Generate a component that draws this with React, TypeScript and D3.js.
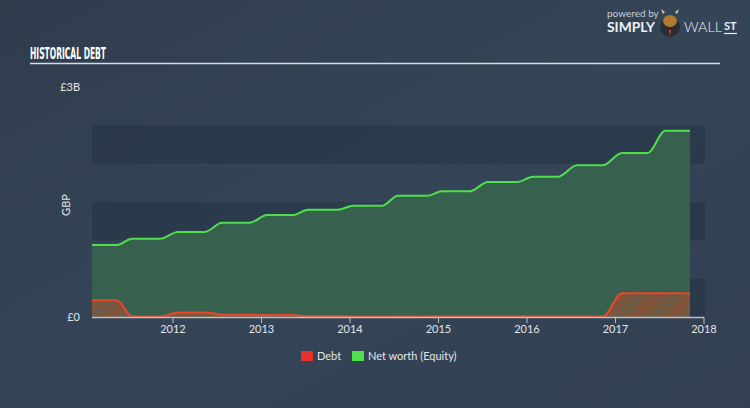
import React from "react";
import * as d3 from "d3";

const W = 750;
const H = 408;

// Dates (decimal years) where the series levels start / end
const dates = [
  2011.085, 2011.367, 2011.537, 2011.853, 2012.056, 2012.362, 2012.554, 2012.87,
  2013.062, 2013.356, 2013.525, 2013.864, 2014.034, 2014.362, 2014.542, 2014.87,
  2015.04, 2015.356, 2015.559, 2015.887, 2016.068, 2016.35, 2016.565, 2016.859,
  2017.073, 2017.367, 2017.559, 2017.842,
];
// Net worth (Equity), £B
const netWorth = [
  0.94, 0.94, 1.02, 1.02, 1.11, 1.11, 1.23, 1.23,
  1.33, 1.33, 1.4, 1.4, 1.45, 1.45, 1.58, 1.58,
  1.64, 1.64, 1.76, 1.76, 1.83, 1.83, 1.98, 1.98,
  2.14, 2.14, 2.43, 2.43,
];
// Debt, £B
const debt = [
  0.22, 0.22, 0.005, 0.005, 0.06, 0.06, 0.03, 0.03,
  0.025, 0.025, 0.01, 0.01, 0.008, 0.008, 0.008, 0.008,
  0.008, 0.008, 0.008, 0.008, 0.008, 0.008, 0.008, 0.008,
  0.31, 0.31, 0.31, 0.31,
];

const xTicks = [2012, 2013, 2014, 2015, 2016, 2017, 2018];
const yTickValues = [0, 3];
const yTickLabels = ["£0", "£3B"];
const bandRanges: [number, number][] = [
  [0, 0.5],
  [1, 1.5],
  [2, 2.5],
];
const legendItems = ["Debt", "Net worth (Equity)"];
const legendColors = ["#e8302c", "#4ee04a"];

const FONT = "Lato, 'Open Sans', sans-serif";

export default function App() {
  const x = d3.scaleLinear().domain([2011, 2018]).range([84.5, 704]);
  const y = d3.scaleLinear().domain([0, 3]).range([317, 87]);

  const pts = dates.map((d, i) => ({ d, n: netWorth[i], b: debt[i] }));

  const netArea = d3
    .area<any>()
    .x((p) => x(p.d))
    .y0(y(0))
    .y1((p) => y(p.n))
    .curve(d3.curveMonotoneX)(pts)!;
  const netLine = d3
    .line<any>()
    .x((p) => x(p.d))
    .y((p) => y(p.n))
    .curve(d3.curveMonotoneX)(pts)!;
  const debtArea = d3
    .area<any>()
    .x((p) => x(p.d))
    .y0(y(0))
    .y1((p) => y(p.b))
    .curve(d3.curveMonotoneX)(pts)!;
  const debtLine = d3
    .line<any>()
    .x((p) => x(p.d))
    .y((p) => y(p.b))
    .curve(d3.curveMonotoneX)(pts)!;

  const bandX0 = x(dates[0]);
  const bandX1 = 705;

  return (
    <div style={{ position: "fixed", left: 0, top: 0, width: W, height: H }}>
      <svg width={W} height={H} style={{ display: "block" }}>
        <defs>
          <linearGradient id="bg" x1="0" y1="0" x2="1" y2="1">
            <stop offset="0" stopColor="#2f3c4c" />
            <stop offset="0.5" stopColor="#354558" />
            <stop offset="1" stopColor="#313f50" />
          </linearGradient>
          <pattern
            id="hatch"
            width="3"
            height="3"
            patternUnits="userSpaceOnUse"
            patternTransform="rotate(45)"
          >
            <rect width="3" height="3" fill="#3e6450" />
            <line x1="0.75" y1="0" x2="0.75" y2="3" stroke="#b44a2c" strokeWidth="1.5" />
          </pattern>
        </defs>
        <rect width={W} height={H} fill="url(#bg)" />

        {/* Title */}
        <text
          x={30}
          y={58.5}
          fill="#ffffff"
          fontFamily="'Liberation Sans Narrow', 'DejaVu Sans Condensed', sans-serif"
          fontWeight="bold"
          fontSize={15}
          textLength={76}
          lengthAdjust="spacingAndGlyphs"
        >
          HISTORICAL DEBT
        </text>
        <line x1={30} x2={720} y1={63.5} y2={63.5} stroke="#d8dde3" strokeWidth={1.5} />

        {/* Logo */}
        <g fontFamily={FONT}>
          <text x={607} y={17} fontSize={10} fill="#c8ccd2">
            powered by
          </text>
          <text x={607} y={32} fontSize={14} fontWeight="bold" fill="#eef0f3" textLength={48} lengthAdjust="spacingAndGlyphs">
            SIMPLY
          </text>
          <circle cx={670} cy={27} r={10} fill="#2a2d33" />
          <ellipse cx={670} cy={21} rx={7} ry={6} fill="#b07a2e" />
          <path d="M663,14 l-2,-5 l4,3 z M677,14 l2,-5 l-4,3 z" fill="#d9c9a0" />
          <path d="M669,30 l1,6 l1,-6 z" fill="#e0501e" />
          <text x={684} y={32} fontSize={14} fontWeight={300} fill="#eef0f3" textLength={38} lengthAdjust="spacingAndGlyphs">
            WALL
          </text>
          <text x={724} y={30} fontSize={11} fontWeight="bold" fill="#eef0f3">
            ST
          </text>
          <line x1={724} x2={737} y1={33.5} y2={33.5} stroke="#eef0f3" strokeWidth={1.2} />
        </g>

        {/* Bands */}
        {bandRanges.map(([a, b], i) => (
          <rect
            key={i}
            x={bandX0}
            width={bandX1 - bandX0}
            y={y(b)}
            height={y(a) - y(b)}
            fill="#1e2a38"
            opacity={0.35}
          />
        ))}

        {/* Net worth */}
        <path d={netArea} fill="#38634f" fillOpacity={0.93} />
        <path d={netLine} fill="none" stroke="#4ee04a" strokeWidth={2} />

        {/* Debt */}
        <path d={debtArea} fill="url(#hatch)" />
        <path d={debtLine} fill="none" stroke="#e8482a" strokeWidth={2} />

        {/* X axis */}
        <line x1={bandX0} x2={x(2018)} y1={317.5} y2={317.5} stroke="#b9c0c8" strokeWidth={1.5} />
        {xTicks.map((t) => (
          <g key={t}>
            <line
              x1={x(t)}
              x2={x(t)}
              y1={317}
              y2={t === 2018 ? 324 : 323}
              stroke="#b9c0c8"
              strokeWidth={1}
            />
            <text
              x={x(t)}
              y={333}
              textAnchor="middle"
              fontFamily={FONT}
              fontSize={11}
              fill="#e2e5e9"
            >
              {t}
            </text>
          </g>
        ))}

        {/* Y axis labels */}
        {yTickValues.map((v, i) => (
          <text
            key={v}
            x={80}
            y={y(v) + 4}
            textAnchor="end"
            fontFamily={FONT}
            fontSize={11}
            fill="#e2e5e9"
          >
            {yTickLabels[i]}
          </text>
        ))}
        <text
          transform={`translate(70,${y(1.5) + 3}) rotate(-90)`}
          textAnchor="middle"
          fontFamily={FONT}
          fontSize={11}
          fill="#e2e5e9"
        >
          GBP
        </text>

        {/* Legend */}
        <g fontFamily={FONT} fontSize={11} fill="#e2e5e9">
          <rect x={301} y={351} width={12} height={10} fill={legendColors[0]} />
          <text x={317} y={360}>
            {legendItems[0]}
          </text>
          <rect x={352} y={351} width={12} height={10} fill={legendColors[1]} />
          <text x={368} y={360}>
            {legendItems[1]}
          </text>
        </g>
      </svg>
    </div>
  );
}
